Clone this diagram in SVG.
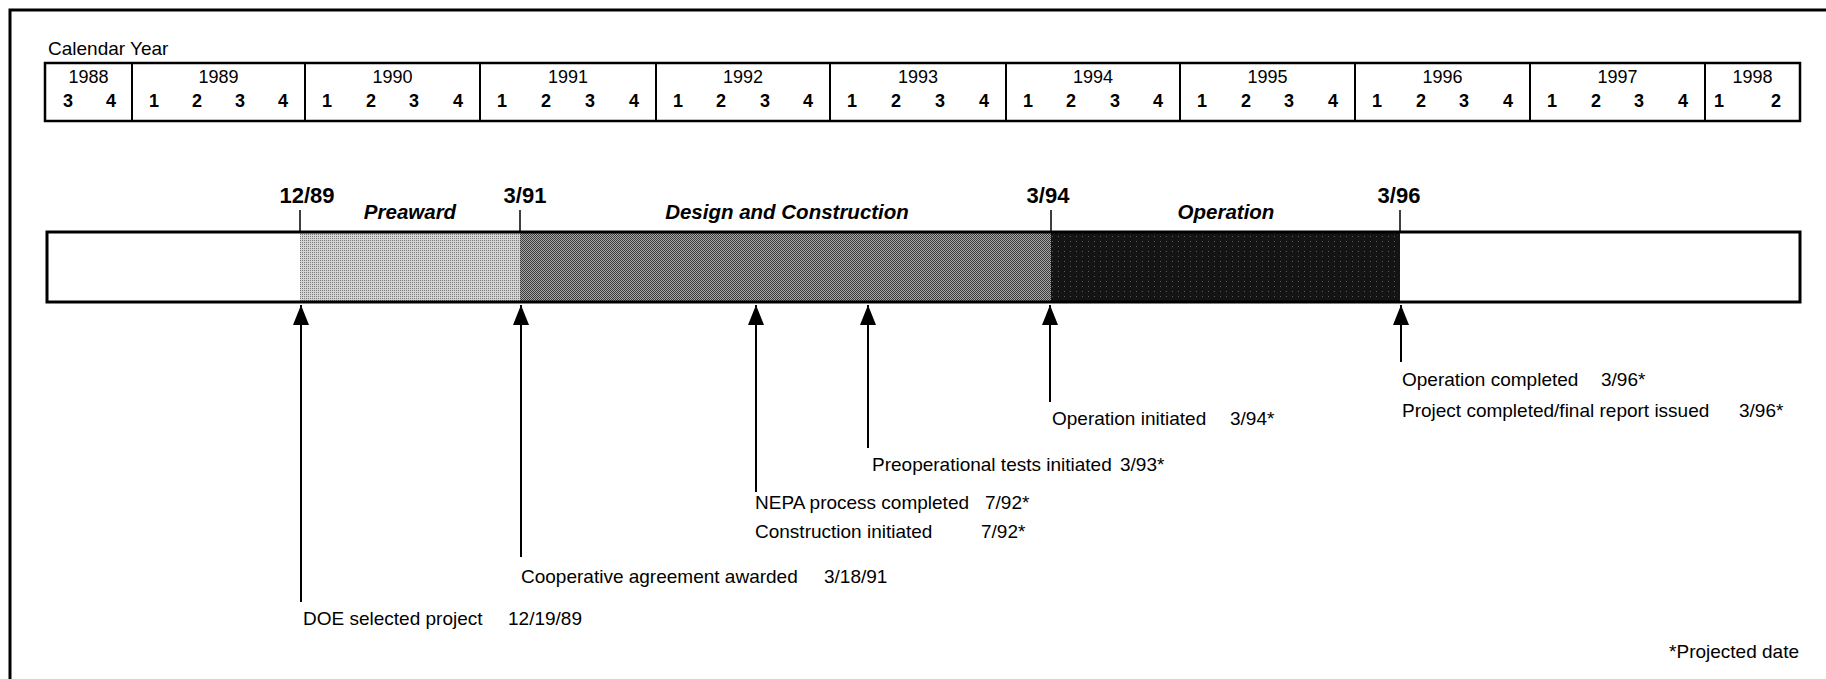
<svg xmlns="http://www.w3.org/2000/svg" width="1826" height="679" viewBox="0 0 1826 679">
<style>
text{font-family:"Liberation Sans",Arial,Helvetica,sans-serif;fill:#000}
.lbl{font-size:19px}
.yr{font-size:18px;text-anchor:middle}
.q{font-size:18px;font-weight:bold;text-anchor:middle}
.ph{font-size:20.5px;font-weight:bold;font-style:italic;text-anchor:middle}
.dt{font-size:22px;font-weight:bold;text-anchor:middle}
.frame{fill:none;stroke:#000;stroke-width:3}
.box{fill:none;stroke:#000;stroke-width:2.5}
.div{stroke:#000;stroke-width:2}
.arr{stroke:#000;stroke-width:2;fill:none;marker-end:url(#ah)}
.tick{stroke:#000;stroke-width:1.5}
</style>
<defs>
<marker id="ah" viewBox="0 0 20 16" refX="20" refY="8" markerWidth="20" markerHeight="16" markerUnits="userSpaceOnUse" orient="auto">
<path d="M0,0 L20,8 L0,16 Z" fill="#000"/>
</marker>
<pattern id="pLight" width="2" height="2" patternUnits="userSpaceOnUse">
<rect width="2" height="2" fill="#d4d4d4"/>
<rect width="1" height="1" fill="#7a7a7a"/>
</pattern>
<pattern id="pMid" width="2" height="2" patternUnits="userSpaceOnUse">
<rect width="2" height="2" fill="#a8a8a8"/>
<rect width="1" height="1" fill="#3a3a3a"/>
<rect x="1" y="1" width="1" height="1" fill="#3a3a3a"/>
</pattern>
<pattern id="pDark" width="6" height="5" patternUnits="userSpaceOnUse">
<rect width="6" height="5" fill="#141414"/>
<rect x="2" y="1" width="1" height="1" fill="#5a5a5a"/>
</pattern>
</defs>
<rect width="1826" height="679" fill="#fff"/>
<g id="frame">
<path class="frame" d="M10,679 V10 H1826"/>
</g>
<g id="calendar">
<text class="lbl" x="48" y="55">Calendar Year</text>
<rect class="box" x="45" y="63" width="1755" height="58"/>
<path class="div" d="M132,63V121M305,63V121M480,63V121M656,63V121M830,63V121M1006,63V121M1180,63V121M1355,63V121M1530,63V121M1705,63V121"/>
<text class="yr" x="88.5" y="83">1988</text>
<text class="yr" x="218.5" y="83">1989</text>
<text class="yr" x="392.5" y="83">1990</text>
<text class="yr" x="568" y="83">1991</text>
<text class="yr" x="743" y="83">1992</text>
<text class="yr" x="918" y="83">1993</text>
<text class="yr" x="1093" y="83">1994</text>
<text class="yr" x="1267.5" y="83">1995</text>
<text class="yr" x="1442.5" y="83">1996</text>
<text class="yr" x="1617.5" y="83">1997</text>
<text class="yr" x="1752.5" y="83">1998</text>
<text class="q" y="107"><tspan x="68">3</tspan><tspan x="111">4</tspan><tspan x="154">1</tspan><tspan x="197">2</tspan><tspan x="240">3</tspan><tspan x="283">4</tspan><tspan x="327">1</tspan><tspan x="371">2</tspan><tspan x="414">3</tspan><tspan x="458">4</tspan><tspan x="502">1</tspan><tspan x="546">2</tspan><tspan x="590">3</tspan><tspan x="634">4</tspan><tspan x="678">1</tspan><tspan x="721">2</tspan><tspan x="765">3</tspan><tspan x="808">4</tspan><tspan x="852">1</tspan><tspan x="896">2</tspan><tspan x="940">3</tspan><tspan x="984">4</tspan><tspan x="1028">1</tspan><tspan x="1071">2</tspan><tspan x="1115">3</tspan><tspan x="1158">4</tspan><tspan x="1202">1</tspan><tspan x="1246">2</tspan><tspan x="1289">3</tspan><tspan x="1333">4</tspan><tspan x="1377">1</tspan><tspan x="1421">2</tspan><tspan x="1464">3</tspan><tspan x="1508">4</tspan><tspan x="1552">1</tspan><tspan x="1596">2</tspan><tspan x="1639">3</tspan><tspan x="1683">4</tspan><tspan x="1719">1</tspan><tspan x="1776">2</tspan></text>
</g>
<g id="bar">
<rect x="300" y="232" width="220" height="70" fill="url(#pLight)"/>
<rect x="520" y="232" width="531" height="70" fill="url(#pMid)"/>
<rect x="1051" y="232" width="349" height="70" fill="url(#pDark)"/>
<rect class="frame" x="47" y="232" width="1753" height="70"/>
</g>
<g id="phase-preaward"><text class="ph" x="410" y="219">Preaward</text></g>
<g id="phase-design"><text class="ph" x="787" y="219">Design and Construction</text></g>
<g id="phase-operation"><text class="ph" x="1226" y="219">Operation</text></g>
<g id="date-1289"><text class="dt" x="307" y="203">12/89</text></g>
<g id="date-391"><text class="dt" x="525" y="203">3/91</text></g>
<g id="date-394"><text class="dt" x="1048" y="203">3/94</text></g>
<g id="date-396"><text class="dt" x="1399" y="203">3/96</text></g>
<g id="connectors">
<path class="tick" d="M300,210V232M520,210V232M1051,210V232M1400,210V232"/>
<line class="arr" x1="301" y1="602" x2="301" y2="305"/>
<line class="arr" x1="521" y1="557" x2="521" y2="305"/>
<line class="arr" x1="756" y1="492" x2="756" y2="305"/>
<line class="arr" x1="868" y1="448" x2="868" y2="305"/>
<line class="arr" x1="1050" y1="402" x2="1050" y2="305"/>
<line class="arr" x1="1401" y1="362" x2="1401" y2="305"/>
</g>
<g id="m-doe"><text class="lbl" y="625"><tspan x="303">DOE selected project</tspan><tspan x="508">12/19/89</tspan></text></g>
<g id="m-coop"><text class="lbl" y="583"><tspan x="521">Cooperative agreement awarded</tspan><tspan x="824">3/18/91</tspan></text></g>
<g id="m-nepa"><text class="lbl" y="509"><tspan x="755">NEPA process completed</tspan><tspan x="985">7/92*</tspan></text></g>
<g id="m-constr"><text class="lbl" y="538"><tspan x="755">Construction initiated</tspan><tspan x="981">7/92*</tspan></text></g>
<g id="m-preop"><text class="lbl" y="471"><tspan x="872">Preoperational tests initiated</tspan><tspan x="1120">3/93*</tspan></text></g>
<g id="m-opinit"><text class="lbl" y="425"><tspan x="1052">Operation initiated</tspan><tspan x="1230">3/94*</tspan></text></g>
<g id="m-opcomp"><text class="lbl" y="386"><tspan x="1402">Operation completed</tspan><tspan x="1601">3/96*</tspan></text></g>
<g id="m-projcomp"><text class="lbl" y="417"><tspan x="1402">Project completed/final report issued</tspan><tspan x="1739">3/96*</tspan></text></g>
<g id="note"><text class="lbl" x="1799" y="658" text-anchor="end">*Projected date</text></g>
</svg>
